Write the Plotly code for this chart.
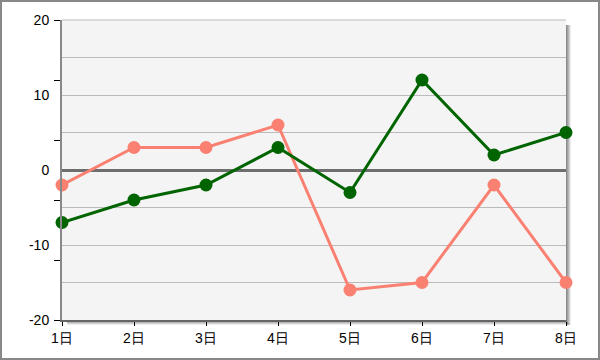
import plotly.graph_objects as go

days = ["1日", "2日", "3日", "4日", "5日", "6日", "7日", "8日"]
green_vals = [-7, -4, -2, 3, -3, 12, 2, 5]
salmon_vals = [-2, 3, 3, 6, -16, -15, -2, -15]
y_grid_vals = [20, 15, 10, 5, 0, -5, -10, -15, -20]
y_grid_text = ["20", "", "10", "", "0", "", "-10", "", "-20"]
y_tick_marks = [20, 12, 4, -4, -12, -20]

W, H = 600, 360
L, R, T, B = 62, 34, 20, 40
pw, ph = W - L - R, H - T - B

fig = go.Figure()
fig.add_trace(go.Scatter(x=days, y=salmon_vals, mode="lines+markers",
                         line=dict(color="#FA8072", width=3),
                         marker=dict(color="#FA8072", size=13),
                         cliponaxis=False, showlegend=False))
fig.add_trace(go.Scatter(x=days, y=green_vals, mode="lines+markers",
                         line=dict(color="#006400", width=3),
                         marker=dict(color="#006400", size=13),
                         cliponaxis=False, showlegend=False))

shapes = []
# shadow right & bottom
for i, op in enumerate([0.8, 0.65, 0.5, 0.3, 0.12]):
    shapes.append(dict(type="rect", xref="paper", yref="paper", layer="below",
                       x0=1 + i / pw, x1=1 + (i + 1) / pw,
                       y0=-(5) / ph, y1=1 - 5 / ph,
                       line=dict(width=0), fillcolor=f"rgba(110,110,110,{op})"))
    shapes.append(dict(type="rect", xref="paper", yref="paper", layer="below",
                       x0=5 / pw, x1=1 + i / pw,
                       y0=-(i + 1) / ph, y1=-i / ph,
                       line=dict(width=0), fillcolor=f"rgba(110,110,110,{op})"))
# outer border
shapes.append(dict(type="rect", xref="paper", yref="paper", layer="above",
                   x0=-(L - 1) / pw, x1=1 + (R - 1) / pw,
                   y0=-(B - 1) / ph, y1=1 + (T - 1) / ph,
                   line=dict(color="#888888", width=2), fillcolor="rgba(0,0,0,0)"))
# top border line of plot
shapes.append(dict(type="line", xref="paper", yref="paper", x0=0, x1=1, y0=1, y1=1,
                   line=dict(color="#bbbbbb", width=1)))

fig.update_layout(
    width=W, height=H,
    margin=dict(l=L, r=R, t=T, b=B, autoexpand=False),
    paper_bgcolor="white",
    plot_bgcolor="#f4f4f4",
    font=dict(family="Liberation Sans, Arial", size=14, color="black"),
    shapes=shapes,
    xaxis=dict(type="category", range=[0, 7], showgrid=False, zeroline=False,
               automargin=False,
               ticks="outside", ticklen=4, tickcolor="black", tickwidth=1,
               showline=True, linecolor="#666666", linewidth=2,
               tickfont=dict(size=14)),
    yaxis=dict(range=[-20, 20], tickvals=y_grid_vals, ticktext=y_grid_text,
               automargin=False,
               ticks="", showgrid=True, gridcolor="#bbbbbb", gridwidth=1,
               zeroline=True, zerolinecolor="#6e6e6e", zerolinewidth=3,
               showline=True, linecolor="#888888", linewidth=2,
               ticklabelstandoff=8,
               minor=dict(tickvals=y_tick_marks, ticks="outside", ticklen=6,
                          tickcolor="black", tickwidth=1, showgrid=False),
               tickfont=dict(size=14)),
)

fig.write_html("out.html", config={"displayModeBar": False},
               post_script="document.body.style.margin='0';document.body.style.padding='0';")
